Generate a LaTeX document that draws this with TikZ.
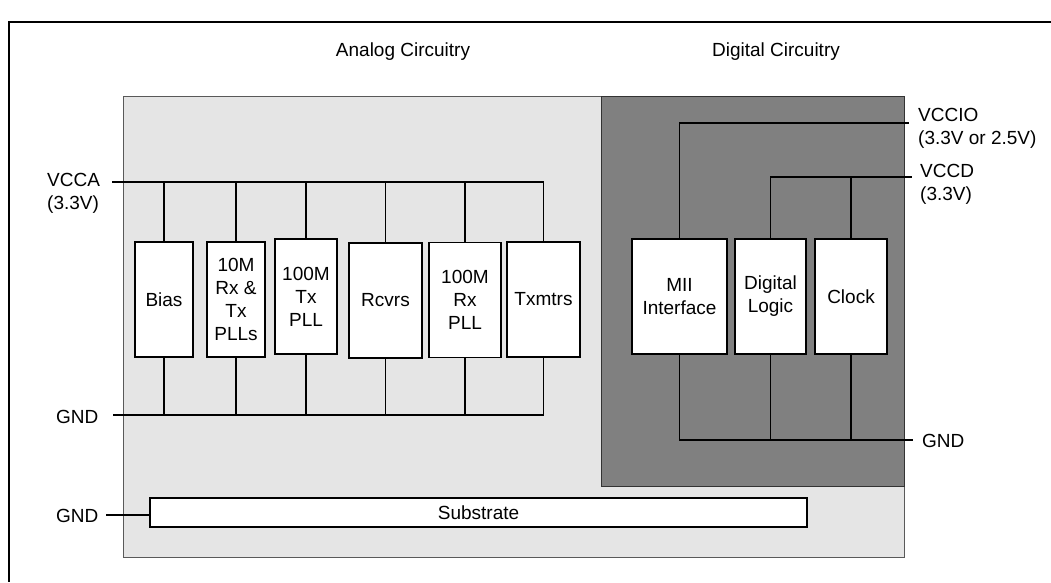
\documentclass[tikz,border=0pt]{standalone}
\usepackage{fontspec}
\setmainfont{Liberation Sans}
\definecolor{analoggray}{RGB}{229,229,229}
\definecolor{digitalgray}{RGB}{128,128,128}
\begin{document}
\begin{tikzpicture}[x=1pt,y=-1pt,
    every node/.style={font=\fontsize{19}{23}\selectfont},
    blk/.style={draw, fill=white, line width=1.3pt, align=center, inner sep=0pt},
    lbl/.style={inner sep=0pt, align=left},
    wire/.style={line width=1.3pt}]
    \useasboundingbox (0,0) rectangle (1051,582);
    \fill[white] (0,0) rectangle (1051,582);
    \draw[line width=1.5pt] (1051,22) -- (9,22) -- (9,582);

    % the two areas of the chip
    \filldraw[fill=analoggray, draw=gray!70!black, line width=0.8pt] (123,96) rectangle (904,557);
    \filldraw[fill=digitalgray, draw=gray!40!black, line width=0.8pt] (601,96) rectangle (904,486);

    \node (analog) at (403,52) {Analog Circuitry};
    \node (digital) at (776,52) {Digital Circuitry};

    % analog blocks
    \node[blk, minimum width=58, minimum height=115] (bias) at (164,299.5) {Bias};
    \node[blk, minimum width=58, minimum height=115] (rxtxpll) at (236,299.5) {10M\\Rx \&\\Tx\\PLLs};
    \node[blk, minimum width=62, minimum height=115] (txpll) at (306,296.5) {100M\\Tx\\PLL};
    \node[blk, minimum width=73, minimum height=115] (rcvrs) at (385.5,300.5) {Rcvrs};
    \node[blk, minimum width=72, minimum height=115] (rxpll) at (465,300) {100M\\Rx\\PLL};
    \node[blk, minimum width=73, minimum height=115] (txmtrs) at (543.5,299.5) {Txmtrs};

    % digital blocks
    \node[blk, minimum width=95, minimum height=115] (mii) at (679.5,296.5) {MII\\Interface};
    \node[blk, minimum width=71, minimum height=115] (diglogic) at (770.5,296.5) {Digital\\Logic};
    \node[blk, minimum width=72, minimum height=115] (clock) at (851,296.5) {Clock};

    \node[blk, minimum width=657, minimum height=29] (substrate) at (478.5,512.5) {Substrate};

    % supply labels
    \coordinate (vcca) at (112,182);
    \coordinate (gnda) at (113,415);
    \coordinate (gnds) at (106,515);
    \coordinate (vccio) at (909,123);
    \coordinate (vccd) at (912,177);
    \coordinate (gndd) at (913,440);
    \node[lbl, anchor=west] (vccalbl) at (47,193) {VCCA\\(3.3V)};
    \node[lbl, anchor=east] (gndalbl) at (98.5,417) {GND};
    \node[lbl, anchor=east] (gndslbl) at (98.5,516) {GND};
    \node[lbl, anchor=west] (vcciolbl) at (918,128) {VCCIO\\(3.3V or 2.5V)};
    \node[lbl, anchor=west] (vccdlbl) at (920,184.5) {VCCD\\(3.3V)};
    \node[lbl, anchor=west] (gnddlbl) at (922,441) {GND};

    % analog rails
    \draw[wire] (vcca) -- (txmtrs.north |- vcca) -- (txmtrs.north);
    \draw[wire] (bias.north) -- (bias.north |- vcca);
    \draw[wire] (rxtxpll.north) -- (rxtxpll.north |- vcca);
    \draw[wire] (txpll.north) -- (txpll.north |- vcca);
    \draw[wire] (rcvrs.north) -- (rcvrs.north |- vcca);
    \draw[wire] (rxpll.north) -- (rxpll.north |- vcca);
    \draw[wire] (gnda) -- (txmtrs.south |- gnda) -- (txmtrs.south);
    \draw[wire] (bias.south) -- (bias.south |- gnda);
    \draw[wire] (rxtxpll.south) -- (rxtxpll.south |- gnda);
    \draw[wire] (txpll.south) -- (txpll.south |- gnda);
    \draw[wire] (rcvrs.south) -- (rcvrs.south |- gnda);
    \draw[wire] (rxpll.south) -- (rxpll.south |- gnda);
    \draw[wire] (gnds) -- (gnds -| substrate.west);

    % digital rails
    \draw[wire] (mii.north) -- (mii.north |- vccio) -- (vccio);
    \draw[wire] (diglogic.north) -- (diglogic.north |- vccd) -- (vccd);
    \draw[wire] (clock.north) -- (clock.north |- vccd);
    \draw[wire] (mii.south) -- (mii.south |- gndd) -- (gndd);
    \draw[wire] (diglogic.south) -- (diglogic.south |- gndd);
    \draw[wire] (clock.south) -- (clock.south |- gndd);
\end{tikzpicture}
\end{document}
